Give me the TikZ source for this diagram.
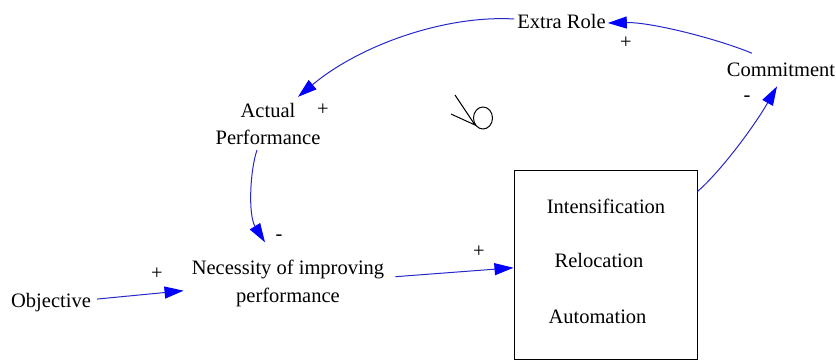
\documentclass[tikz,border=0pt]{standalone}
\usepackage{fontspec}
\setmainfont{Liberation Serif}
\newfontfamily\labelfont{Liberation Serif}
\usetikzlibrary{arrows.meta,calc}
\definecolor{linkline}{RGB}{40,40,200}
\begin{document}
\begin{tikzpicture}[x=1pt,y=-1pt,
  lbl/.style={inner sep=0pt,font=\labelfont\fontsize{20.5}{27.5}\selectfont,align=center},
  sgn/.style={inner sep=0pt,font=\labelfont\fontsize{20.5}{24}\selectfont},
  link/.style={draw=linkline,line width=1pt,-{Triangle[length=19pt,width=12pt,color=blue]}}
]
\useasboundingbox (0,0) rectangle (836,361);
\fill[white] (0,0) rectangle (836,361);

% variables
\node[lbl,anchor=base] (obj) at (51,307) {Objective};
\node[lbl] (nec) at (288,283.7) {Necessity of improving\\performance};
\node[lbl] (act) at (268,124) {Actual\\Performance};
\node[lbl,anchor=base] (xr) at (561.5,29) {Extra Role};
\node[lbl,anchor=base] (com) at (781,77) {Commitment};

% strategy box
\node[draw,line width=1pt,minimum width=183pt,minimum height=189.5pt,inner sep=0pt] (box) at (605.5,264.75) {};
\node[lbl,anchor=base] (int) at (606,213) {Intensification};
\node[lbl,anchor=base] (rel) at (599,267) {Relocation};
\node[lbl,anchor=base] (aut) at (597.5,323) {Automation};

% polarities
\node[sgn] (p1) at (157,274) {+};
\node[sgn] (p2) at (479,252) {+};
\node[sgn] (p3) at (626,43) {+};
\node[sgn] (p4) at (323,110) {+};
\node[sgn] (m1) at (279,238) {-};
\node[sgn] (m2) at (747,99) {-};

% causal links
\draw[link] ($(obj.east)+(6,-3)$) -- ($(nec.west)+(-8,7)$);
\draw[link] ($(nec.east)+(11,-7)$) -- ($(box.west)+(0,3)$);
\draw[link] ($(box.north east)+(0,22)$) .. controls (722,170) and (755,125) .. ($(com.south)+(-4,9)$);
\draw[link] ($(com.north)+(-29,-10)$) .. controls (715,38) and (650,22) .. ($(xr.east)+(2,1)$);
\draw[link] ($(xr.west)+(-3,-3)$) .. controls (445,15) and (360,45) .. ($(act.north)+(30,-6)$);
\draw[link] ($(act.south)+(-11,5)$) .. controls (250,170) and (248,215) .. ($(nec.north)+(-23,-18)$);

% loop marker
\draw[line width=1pt] (455,95) -- (475,125) -- (451,114);
\draw[line width=1pt] (483,118) ellipse [x radius=9.5, y radius=11];
\end{tikzpicture}
\end{document}
